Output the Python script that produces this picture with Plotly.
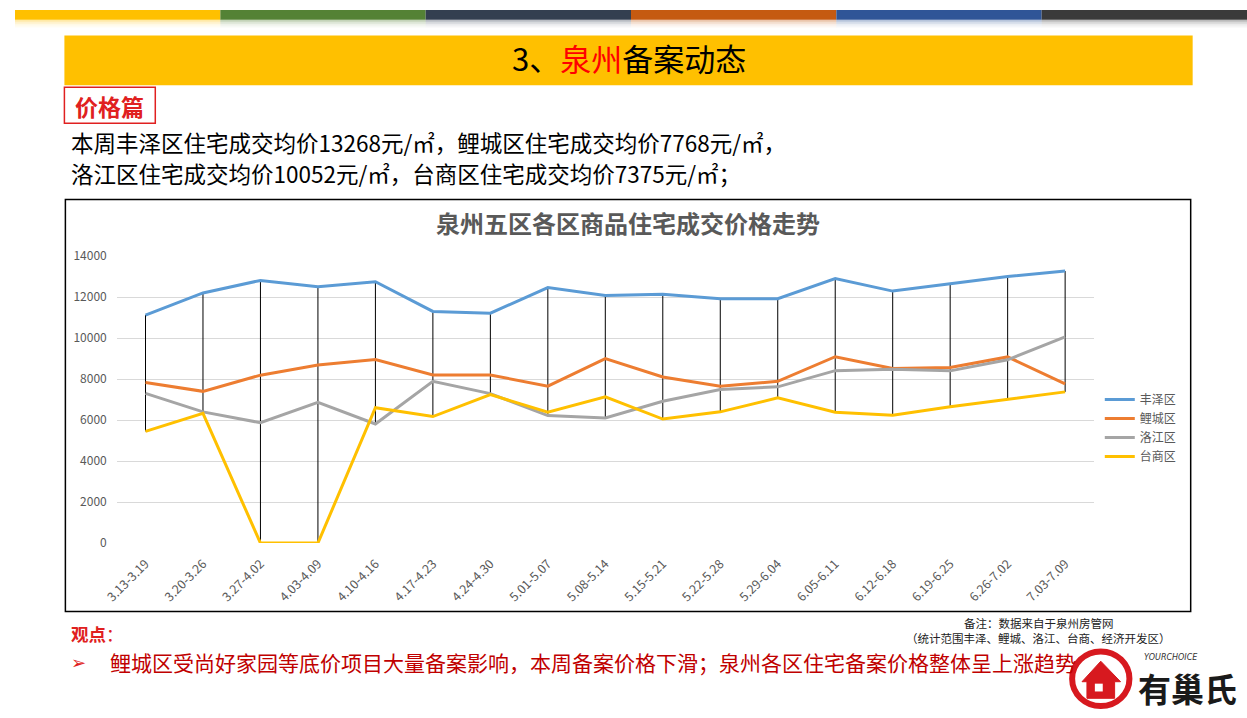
import plotly.graph_objects as go

W, H = 1247, 718

categories = ["3.13-3.19", "3.20-3.26", "3.27-4.02", "4.03-4.09", "4.10-4.16", "4.17-4.23",
              "4.24-4.30", "5.01-5.07", "5.08-5.14", "5.15-5.21", "5.22-5.28", "5.29-6.04",
              "6.05-6.11", "6.12-6.18", "6.19-6.25", "6.26-7.02", "7.03-7.09"]
fengze = [11120, 12200, 12810, 12500, 12750, 11300, 11210, 12460, 12080, 12140, 11920, 11920,
          12900, 12290, 12650, 13000, 13268]
licheng = [7830, 7400, 8190, 8680, 8950, 8200, 8200, 7650, 9000, 8100, 7650, 7890,
           9090, 8510, 8560, 9080, 7768]
luojiang = [7300, 6400, 5870, 6860, 5810, 7890, 7290, 6220, 6100, 6920, 7490, 7620,
            8410, 8480, 8400, 8940, 10052]
taishang = [5450, 6330, 0, 0, 6600, 6170, 7240, 6380, 7130, 6050, 6400, 7080,
            6380, 6240, 6650, 7000, 7375]
series_names = ["丰泽区", "鲤城区", "洛江区", "台商区"]
y_ticks = [0, 2000, 4000, 6000, 8000, 10000, 12000, 14000]

colors = ["#5B9BD5", "#ED7D31", "#A5A5A5", "#FFC000"]
FONT = "Noto Sans CJK SC"


def px(x):
    return x / W


def py(y):
    return 1 - y / H


fig = go.Figure()

# high-low lines
hx, hy = [], []
all_series = [fengze, licheng, luojiang, taishang]
for i, c in enumerate(categories):
    vals = [s[i] for s in all_series]
    hx += [c, c, None]
    hy += [max(vals), min(vals), None]
fig.add_trace(go.Scatter(x=hx, y=hy, mode="lines", line=dict(color="black", width=1),
                         showlegend=False, hoverinfo="skip"))

for name, data, col in zip(series_names, all_series, colors):
    fig.add_trace(go.Scatter(x=categories, y=data, mode="lines", name=name,
                             line=dict(color=col, width=3)))

shapes = []
# top color strip
strip_cols = ["#FFC000", "#548235", "#333F50", "#C55A11", "#2F5597", "#3A3A3A"]
for i, c in enumerate(strip_cols):
    x0 = i * W / 6
    x1 = (i + 1) * W / 6
    shapes.append(dict(type="rect", xref="paper", yref="paper", x0=px(x0), x1=px(x1),
                       y0=py(10), y1=py(0), fillcolor=c, line=dict(width=0), layer="above"))
    for k, op in enumerate([0.35, 0.2, 0.1, 0.05]):
        shapes.append(dict(type="rect", xref="paper", yref="paper", x0=px(x0), x1=px(x1),
                           y0=py(12 + 2 * k), y1=py(10 + 2 * k), fillcolor=c, opacity=op,
                           line=dict(width=0), layer="above"))
# title bar
shapes.append(dict(type="rect", xref="paper", yref="paper", x0=px(50), x1=px(1192),
                   y0=py(77), y1=py(26), fillcolor="#FFC000", line=dict(width=0)))
# 价格篇 box
shapes.append(dict(type="rect", xref="paper", yref="paper", x0=px(50), x1=px(142),
                   y0=py(116), y1=py(79), fillcolor="white", line=dict(color="#E02020", width=1.5)))
# chart box
shapes.append(dict(type="rect", xref="paper", yref="paper", x0=px(51), x1=px(1190),
                   y0=py(616), y1=py(194), fillcolor="rgba(0,0,0,0)", line=dict(color="black", width=1.5)))
# logo ring
shapes.append(dict(type="circle", xref="paper", yref="paper", x0=px(1070), x1=px(1128),
                   y0=py(713), y1=py(657), line=dict(color="#D7191F", width=6)))
# logo house
house = (f"M {px(1080)},{py(688)} L {px(1099)},{py(667)} L {px(1119)},{py(688)} "
         f"L {px(1113)},{py(688)} L {px(1113)},{py(705)} L {px(1085)},{py(705)} L {px(1085)},{py(688)} Z")
shapes.append(dict(type="path", xref="paper", yref="paper", path=house,
                   fillcolor="#D7191F", line=dict(color="#D7191F", width=1)))
shapes.append(dict(type="rect", xref="paper", yref="paper", x0=px(1093), x1=px(1101),
                   y0=py(698), y1=py(690), fillcolor="white", line=dict(width=0)))

annotations = []


def ann(x, y, text, size, color="black", anchor="left", bold=False, family=FONT, align="left"):
    if bold:
        text = f"<b>{text}</b>"
    annotations.append(dict(x=px(x), y=py(y), xref="paper", yref="paper", text=text,
                            showarrow=False, xanchor=anchor, yanchor="middle", align=align,
                            font=dict(family=family, size=size, color=color)))


ann(621, 49, "3、<span style='color:#FF0000'>泉州</span>备案动态", 31, anchor="center")
ann(96, 98, "价格篇", 23, color="#E02020", anchor="center", bold=True)
ann(55, 135, "本周丰泽区住宅成交均价13268元/㎡，鲤城区住宅成交均价7768元/㎡，", 22.5)
ann(55, 167, "洛江区住宅成交均价10052元/㎡，台商区住宅成交均价7375元/㎡；", 22.5)
ann(620, 218, "泉州五区各区商品住宅成交价格走势", 24, color="#595959", anchor="center", bold=True)
ann(1036, 628, "备注：数据来自于泉州房管网", 11.5, color="#222222", anchor="center")
ann(1036, 643, "（统计范围丰泽、鲤城、洛江、台商、经济开发区）", 11.5, color="#222222", anchor="center")
ann(55, 639, "<b>观点</b>：", 17.5, color="#E02020")
ann(55, 668, "➢", 18, color="#E02020", family="DejaVu Sans")
ann(94, 668, "鲤城区受尚好家园等底价项目大量备案影响，本周备案价格下滑；泉州各区住宅备案价格整体呈上涨趋势", 21,
    color="#C00000")
ann(1170, 663, "<i>YOURCHOICE</i>", 8, color="#333333", anchor="center", family="DejaVu Sans")
ann(1187, 694, "有巢氏", 33, color="#1A1A1A", anchor="center", bold=True)

fig.update_layout(
    width=W, height=H,
    margin=dict(l=0, r=0, t=0, b=0),
    paper_bgcolor="white", plot_bgcolor="white",
    shapes=shapes, annotations=annotations,
    showlegend=True,
    legend=dict(x=px(1098), y=py(384), xanchor="left", yanchor="top",
                font=dict(family=FONT, size=12, color="#595959"),
                itemwidth=30, tracegroupgap=0, bgcolor="rgba(0,0,0,0)"),
    xaxis=dict(domain=[px(103), px(1092)], type="category", range=[-0.5, 16.5],
               showgrid=False, showline=False, ticks="", tickangle=-45, ticklabelstandoff=10,
               tickfont=dict(family=FONT, size=12.5, color="#595959"), fixedrange=True),
    yaxis=dict(domain=[py(546), py(252)], range=[0, 14000], tickvals=y_ticks,
               ticktext=[str(v) for v in y_ticks],
               showgrid=True, gridcolor="#D9D9D9", gridwidth=1, zeroline=False,
               showline=False, ticks="", ticklabelstandoff=9,
               tickfont=dict(family=FONT, size=12, color="#595959"), fixedrange=True),
)

post = ("document.documentElement.style.margin='0';document.body.style.margin='0';"
        "document.body.style.padding='0';document.body.style.overflow='hidden';"
        "var d=document.getElementById('{plot_id}');d.style.position='fixed';"
        "d.style.left='0px';d.style.top='0px';")
fig.write_html("out.html", config={"displayModeBar": False}, post_script=post)
